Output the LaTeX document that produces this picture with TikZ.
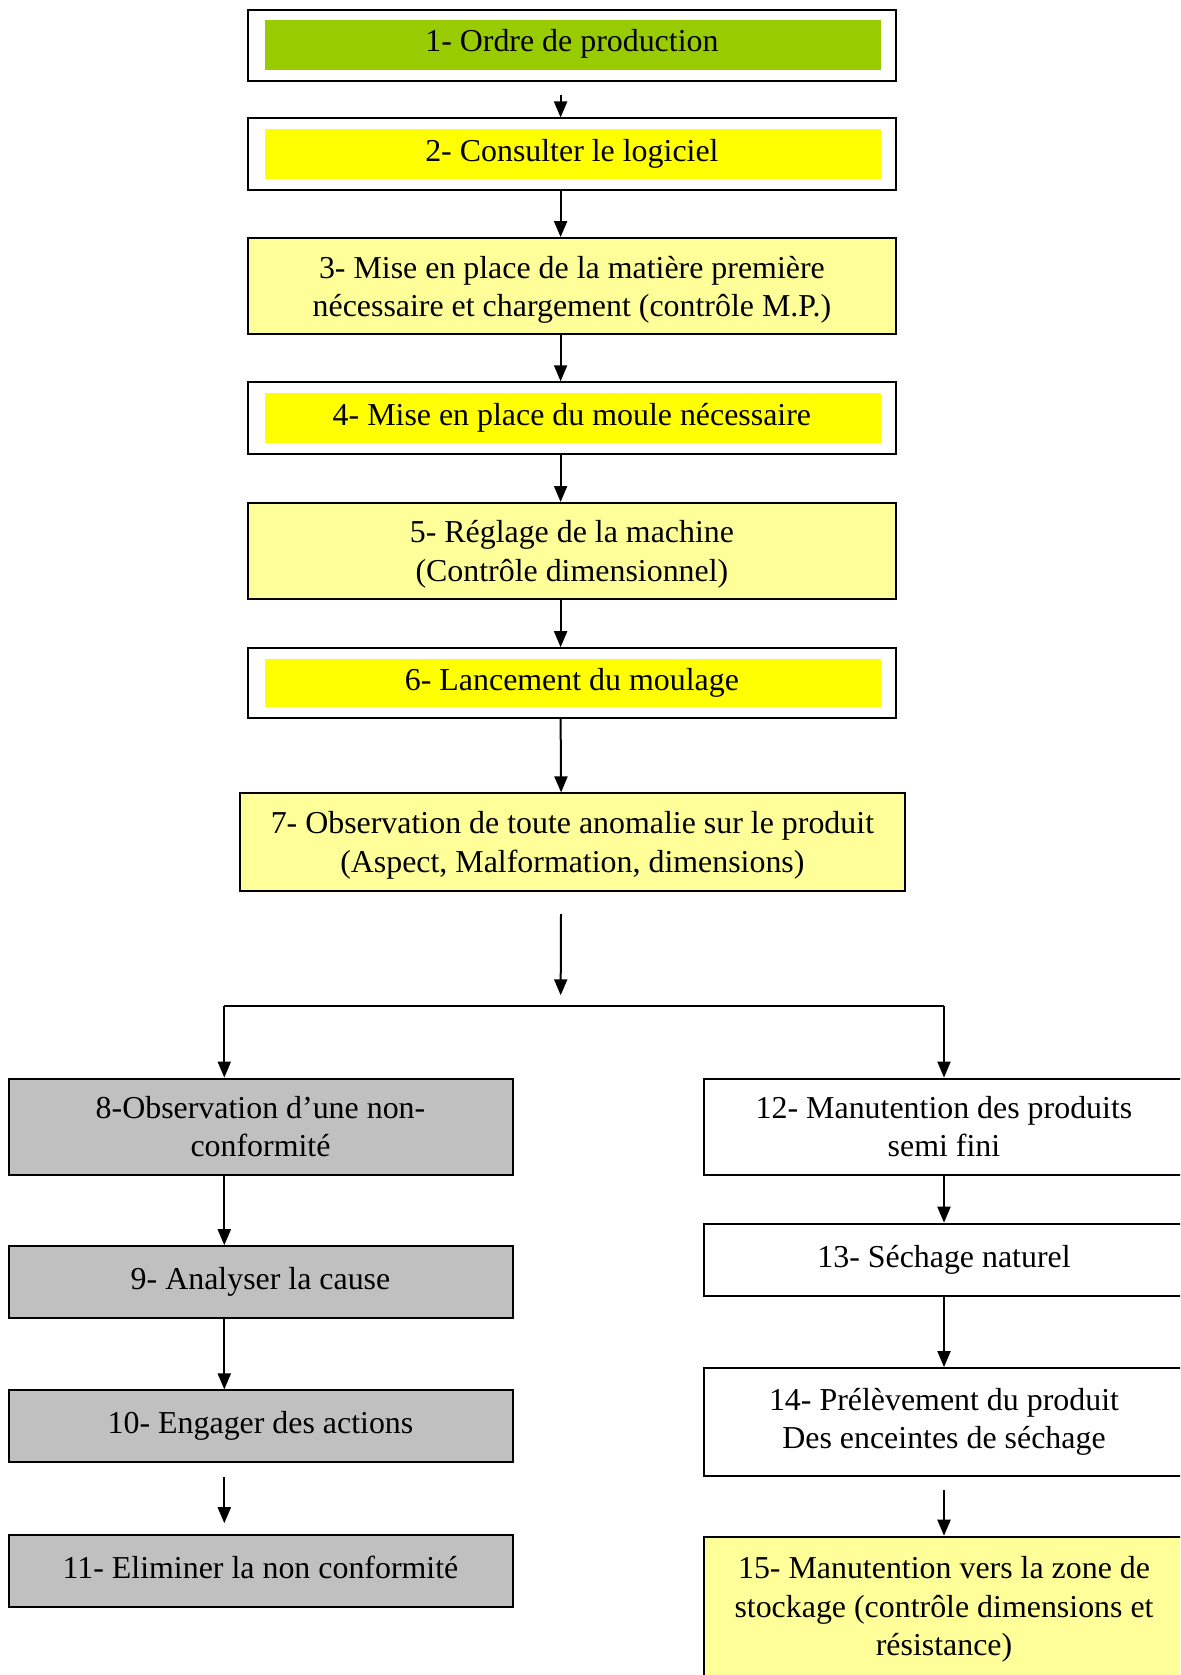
\documentclass[tikz,border=0pt]{standalone}
\usepackage{fontspec}
\setmainfont{Liberation Serif}
\usetikzlibrary{arrows.meta}
\definecolor{cgreen}{HTML}{99CC00}
\definecolor{cyellow}{HTML}{FFFF00}
\definecolor{clight}{HTML}{FFFF99}
\definecolor{cgray}{HTML}{C0C0C0}
\tikzset{
  box/.style={draw=black, line width=2pt, rectangle, inner sep=0pt, align=center,
    font=\fontsize{31.9}{38.4}\selectfont},
  one/.style={text height=22pt, text depth=7pt},
  inbox/.style={rectangle, inner sep=0pt, draw=none},
  arr/.style={line width=2pt, -{Triangle[length=16pt,width=13pt]}},
  conn/.style={line width=2pt}
}
\begin{document}
\begin{tikzpicture}[x=1pt,y=-1pt]
\useasboundingbox (0,0) rectangle (1180,1675);
\clip (0,0) rectangle (1180,1675);
\fill[white] (0,0) rectangle (1180,1675);
% top chain
\node[inbox, fill=cgreen, minimum width=616.2pt, minimum height=50.2pt] (b1in) at (572.9,45.4) {};
\node[box, one, text depth=10pt, minimum width=648.2pt, minimum height=71.6pt] (b1) at (571.9,45.4) {1- Ordre de production};
\node[inbox, fill=cyellow, minimum width=616.2pt, minimum height=50.2pt] (b2in) at (572.9,154.3) {};
\node[box, one, minimum width=648.2pt, minimum height=71.6pt] (b2) at (571.9,154.3) {2- Consulter le logiciel};
\node[box, fill=clight, text depth=0pt, minimum width=648.2pt, minimum height=96.2pt] (b3) at (571.9,286.2) {3- Mise en place de la matière première\\nécessaire et chargement (contrôle M.P.)};
\node[inbox, fill=cyellow, minimum width=616.2pt, minimum height=50.2pt] (b4in) at (572.9,418.1) {};
\node[box, one, minimum width=648.2pt, minimum height=71.6pt] (b4) at (571.9,418.1) {4- Mise en place du moule nécessaire};
\node[box, fill=clight, text depth=0pt, minimum width=648.2pt, minimum height=96pt] (b5) at (571.9,551) {5- Réglage de la machine\\(Contrôle dimensionnel)};
\node[inbox, fill=cyellow, minimum width=616.2pt, minimum height=48pt] (b6in) at (572.9,683) {};
\node[box, one, minimum width=648.2pt, minimum height=69.4pt] (b6) at (571.9,682.9) {6- Lancement du moulage};
\node[box, fill=clight, text depth=0pt, minimum width=664.2pt, minimum height=97.2pt] (b7) at (572.4,842) {7- Observation de toute anomalie sur le produit\\(Aspect, Malformation, dimensions)};
% left column
\node[box, fill=cgray, minimum width=504pt, minimum height=96pt] (b8) at (260.5,1126.6) {8-Observation d’une non-\\conformité};
\node[box, one, fill=cgray, minimum width=504pt, minimum height=71.6pt] (b9) at (260.5,1282) {9- Analyser la cause};
\node[box, one, fill=cgray, minimum width=504pt, minimum height=71.6pt] (b10) at (260.5,1426.2) {10- Engager des actions};
\node[box, one, fill=cgray, minimum width=504pt, minimum height=71.6pt] (b11) at (260.5,1571) {11- Eliminer la non conformité};
% right column
\node[box, minimum width=480.6pt, minimum height=96pt] (b12) at (944,1126.6) {12- Manutention des produits\\semi fini};
\node[box, one, minimum width=480.6pt, minimum height=72.6pt] (b13) at (944,1260) {13- Séchage naturel};
\node[box, minimum width=480.6pt, minimum height=107.8pt] (b14) at (944,1422) {14- Prélèvement du produit\\Des enceintes de séchage};
\node[box, fill=clight, minimum width=480.6pt, minimum height=142pt, text depth=3pt] (b15) at (944,1607.7) {15- Manutention vers la zone de\\stockage (contrôle dimensions et\\résistance)};
% connectors top chain
\draw[arr, shorten <=12.8pt] ([xshift=-11.3pt]b1.south) -- ([xshift=-11.3pt]b2.north);
\draw[arr] ([xshift=-11.3pt]b2.south) -- ([xshift=-11.3pt]b3.north);
\draw[arr] ([xshift=-11.3pt]b3.south) -- ([xshift=-11.3pt]b4.north);
\draw[arr] ([xshift=-11.3pt]b4.south) -- ([xshift=-11.3pt]b5.north);
\draw[arr] ([xshift=-11.3pt]b5.south) -- ([xshift=-11.3pt]b6.north);
\draw[arr] ([xshift=-11.3pt]b6.south) -- ([xshift=-11.3pt]b7.north);
% split
\coordinate (j) at (560.6,1006);
\coordinate (jl) at (224.3,1006);
\coordinate (jr) at (944,1006);
\draw[arr, shorten <=22.4pt, shorten >=10.7pt] ([xshift=-11.3pt]b7.south) -- (j);
\draw[conn] (jl) -- (jr);
\draw[arr] (jl) -- (jl |- b8.north);
\draw[arr] (jr) -- (b12.north);
% left chain
\draw[arr] ([xshift=-36.2pt]b8.south) -- ([xshift=-36.2pt]b9.north);
\draw[arr] ([xshift=-36.2pt]b9.south) -- ([xshift=-36.2pt]b10.north);
\draw[arr, shorten <=13.8pt, shorten >=11pt] ([xshift=-36.2pt]b10.south) -- ([xshift=-36.2pt]b11.north);
% right chain
\draw[arr] (b12.south) -- (b13.north);
\draw[arr] (b13.south) -- (b14.north);
\draw[arr, shorten <=12.9pt] (b14.south) -- (b15.north);
\end{tikzpicture}
\end{document}
